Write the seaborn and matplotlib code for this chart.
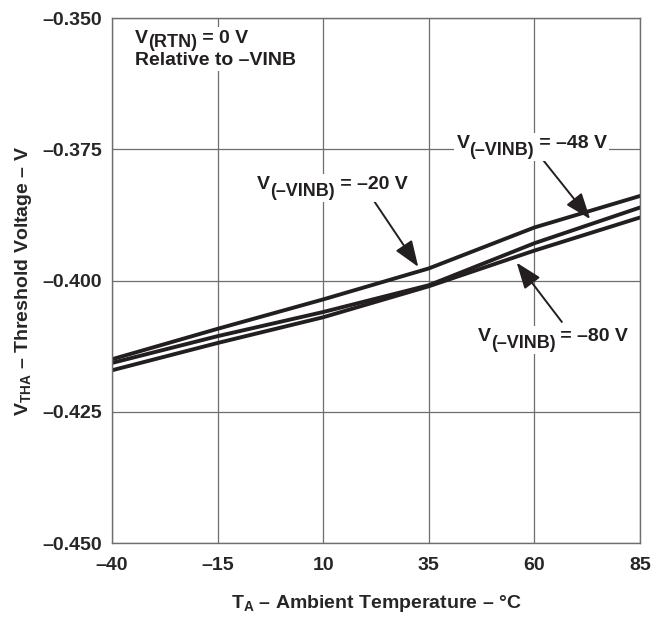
import numpy as np
import pandas as pd
import matplotlib
matplotlib.use("Agg")
import matplotlib.pyplot as plt
import seaborn as sns
from matplotlib.offsetbox import TextArea, HPacker, VPacker, DrawingArea, AnnotationBbox

# values
temps = [-40, -15, 10, 35, 60, 85]
vth_20 = [-0.4150, -0.4092, -0.4036, -0.3977, -0.3899, -0.3839]
vth_48 = [-0.4157, -0.4106, -0.4060, -0.4009, -0.3929, -0.3861]
vth_80 = [-0.4171, -0.4119, -0.4070, -0.4011, -0.3943, -0.3880]
series = ["-20 V", "-48 V", "-80 V"]

x_ticks = [-40, -15, 10, 35, 60, 85]
x_tick_labels = ["–40", "–15", "10", "35", "60", "85"]
y_ticks = [-0.450, -0.425, -0.400, -0.375, -0.350]
y_tick_labels = ["–0.450", "–0.425", "–0.400", "–0.375", "–0.350"]

df = pd.DataFrame({
    "T": temps * 3,
    "V": vth_20 + vth_48 + vth_80,
    "supply": [series[0]] * 6 + [series[1]] * 6 + [series[2]] * 6,
})

sns.set_style("white")
plt.rcParams["font.family"] = ["Liberation Sans", "DejaVu Sans"]
plt.rcParams["font.weight"] = "bold"
plt.rcParams["mathtext.fontset"] = "custom"
plt.rcParams["mathtext.rm"] = "Liberation Sans:bold"
plt.rcParams["mathtext.it"] = "Liberation Sans:bold"
plt.rcParams["mathtext.bf"] = "Liberation Sans:bold"

FS = 14
INK = "#231f20"

fig = plt.figure(figsize=(6.54, 6.25), dpi=100)
ax = fig.add_axes([0.1713, 0.1312, 0.8073, 0.84])

sns.lineplot(data=df, x="T", y="V", hue="supply",
             palette=[INK] * 3, linewidth=2.8, legend=False, ax=ax)

ax.set_xlim(-40, 85)
ax.set_ylim(-0.450, -0.350)
ax.set_xticks(x_ticks)
ax.set_xticklabels(x_tick_labels)
ax.set_yticks(y_ticks)
ax.set_yticklabels(y_tick_labels)
ax.tick_params(axis="x", length=0, labelsize=FS, pad=10)
ax.tick_params(axis="y", length=0, labelsize=FS, pad=7)
ax.grid(True, color="#6d6e71", linewidth=0.9)
for s in ax.spines.values():
    s.set_color("#6d6e71")
    s.set_linewidth(1.0)

ax.set_xlabel("T$_{\\rm A}$ – Ambient Temperature – °C", fontsize=FS,
              fontweight="bold", labelpad=14)
ax.set_ylabel("V$_{\\rm THA}$ – Threshold Voltage – V", fontsize=FS,
              fontweight="bold", labelpad=6)


def sub_label(main, sub, rest, drop=5):
    tp = dict(fontsize=FS, fontweight="bold", color=INK)
    sp = dict(fontsize=FS - 1, fontweight="bold", color=INK)
    lowered = VPacker(children=[DrawingArea(0, drop), TextArea(sub, textprops=sp)],
                      pad=0, sep=0, align="left")
    return HPacker(children=[TextArea(main, textprops=tp), lowered,
                             TextArea(rest, textprops=tp)],
                   pad=0, sep=0, align="top")


def place(box, xy, align=(0.5, 0.5)):
    ab = AnnotationBbox(box, xy, xycoords="data", box_alignment=align,
                        frameon=True, pad=0.15,
                        bboxprops=dict(fc="white", ec="none"))
    ax.add_artist(ab)


# note in the upper left corner
note = VPacker(children=[sub_label("V", "(RTN)", " = 0 V", drop=3),
                         TextArea("Relative to –VINB",
                                  textprops=dict(fontsize=FS, fontweight="bold", color=INK))],
               pad=0, sep=1, align="left")
place(note, (-34.6, -0.3522), align=(0, 1))

arrow = dict(arrowstyle="-|>,head_length=1.6,head_width=0.6",
             color=INK, lw=1.4, shrinkA=0, shrinkB=0, mutation_scale=10)

ax.annotate("", xy=(32.5, -0.3974), xytext=(21.9, -0.3847), arrowprops=arrow)
place(sub_label("V", "(–VINB)", " = –20 V"), (12.1, -0.3824))

ax.annotate("", xy=(73.2, -0.3883), xytext=(62.1, -0.3771), arrowprops=arrow)
place(sub_label("V", "(–VINB)", " = –48 V"), (59.4, -0.3746))

ax.annotate("", xy=(55.8, -0.3966), xytext=(66.5, -0.4079), arrowprops=arrow)
place(sub_label("V", "(–VINB)", " = –80 V"), (64.4, -0.4113))

fig.savefig("out.png", dpi=100)
